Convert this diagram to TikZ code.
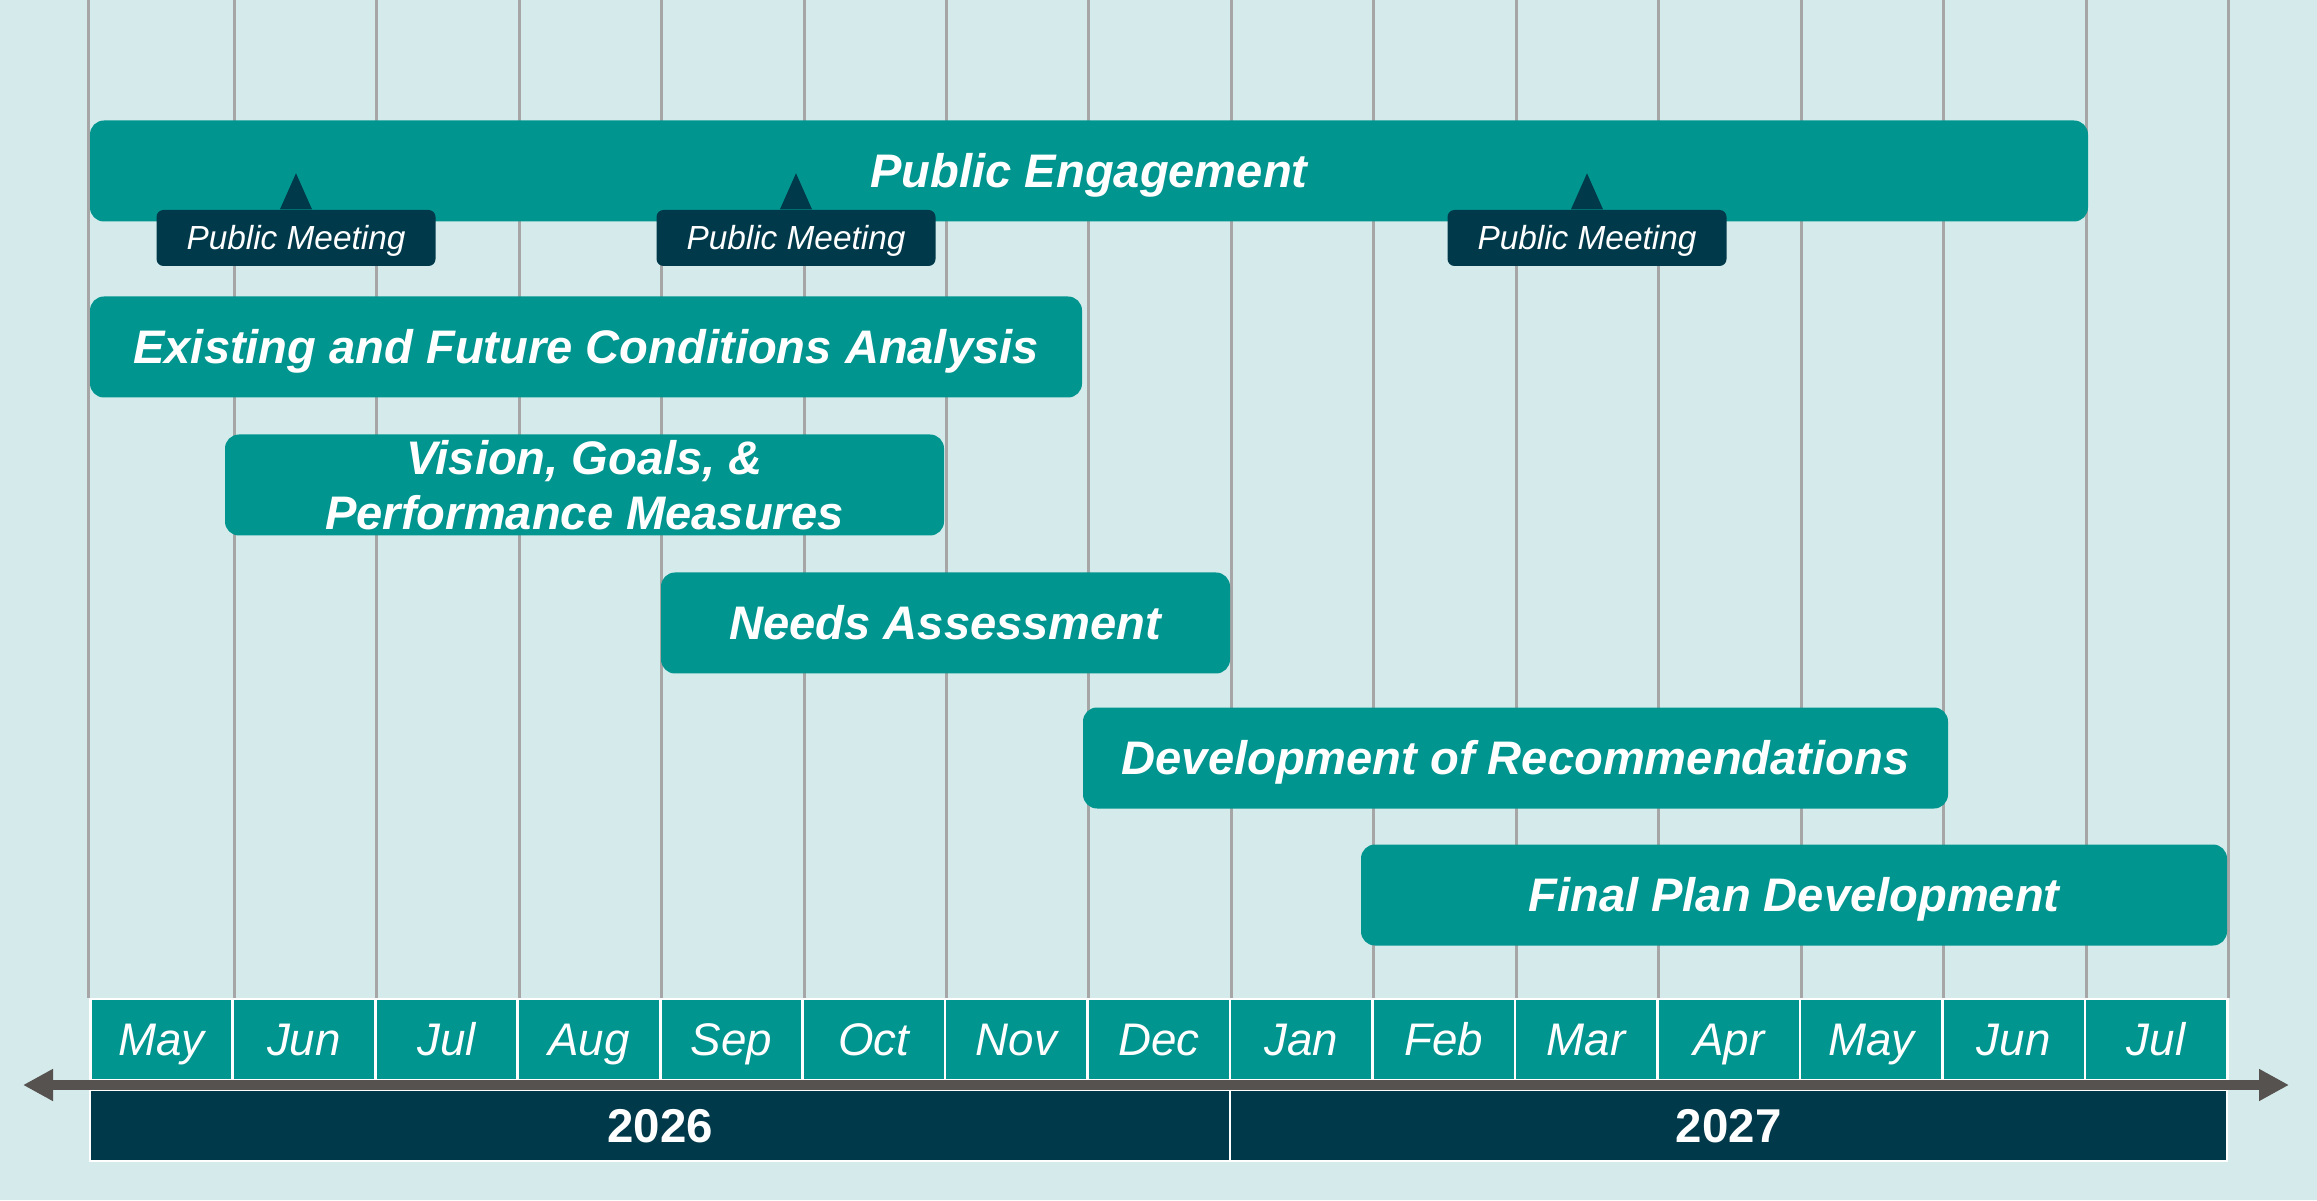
\documentclass[tikz,border=0pt]{standalone}
\usepackage{fontspec}
\setmainfont{Liberation Sans}
\usetikzlibrary{arrows.meta}
\definecolor{bgblue}{HTML}{D5EAEB}
\definecolor{barteal}{HTML}{00958F}
\definecolor{darknavy}{HTML}{003A4A}
\definecolor{gridgrey}{HTML}{A6A6A6}
\definecolor{axisgrey}{HTML}{55524F}
\tikzset{
	taskbar/.style={fill=barteal, rounded corners=0.14cm, minimum height=1.01cm, inner sep=0pt, text=white, align=center, font=\fontsize{13.4}{15.6}\selectfont\bfseries\itshape},
	capline/.style={text height=#1, text depth=0pt},
	meeting/.style={fill=darknavy, rounded corners=0.07cm, minimum width=2.79cm, minimum height=0.56cm, inner sep=0pt, text=white, capline=6.8pt, font=\fontsize{9.5}{11}\selectfont\itshape},
	month/.style={fill=barteal, draw=white, line width=0.8pt, minimum width=1.4248cm, minimum height=0.81cm, inner sep=0pt, text=white, capline=9.3pt, font=\fontsize{13}{15}\selectfont\itshape},
	year/.style={fill=darknavy, draw=white, line width=0.6pt, minimum height=0.71cm, inner sep=0pt, text=white, capline=9.7pt, font=\fontsize{13.5}{16}\selectfont\bfseries},
	gridline/.style={draw=gridgrey, line width=0.85pt},
	timeline/.style={draw=axisgrey, line width=0.1cm, {Triangle[length=0.3cm,width=0.3cm]}-{Triangle[length=0.3cm,width=0.3cm]}}
}
\begin{document}
\begin{tikzpicture}
	% Background:
	\useasboundingbox (0, 0) rectangle (23.17, 12);
	\fill[bgblue] (0, 0) rectangle (23.17, 12);
	% Months and years:
	\node[month](M1) at (1.6144, 1.605){May};
	\node[month](M2) at (3.0392, 1.605){Jun};
	\node[month](M3) at (4.4640, 1.605){Jul};
	\node[month](M4) at (5.8888, 1.605){Aug};
	\node[month](M5) at (7.3136, 1.605){Sep};
	\node[month](M6) at (8.7384, 1.605){Oct};
	\node[month](M7) at (10.1632, 1.605){Nov};
	\node[month](M8) at (11.5880, 1.605){Dec};
	\node[month](M9) at (13.0128, 1.605){Jan};
	\node[month](M10) at (14.4376, 1.605){Feb};
	\node[month](M11) at (15.8624, 1.605){Mar};
	\node[month](M12) at (17.2872, 1.605){Apr};
	\node[month](M13) at (18.7120, 1.605){May};
	\node[month](M14) at (20.1368, 1.605){Jun};
	\node[month](M15) at (21.5616, 1.605){Jul};
	\node[year, minimum width=11.398cm](Y1) at (6.601, 0.745){2026};
	\node[year, minimum width=9.974cm](Y2) at (17.287, 0.745){2027};
	% Grid lines:
	\draw[gridline] (M1.north west) -- ++(0, 9.99);
	\draw[gridline] (M1.north east) -- ++(0, 9.99);
	\draw[gridline] (M2.north east) -- ++(0, 9.99);
	\draw[gridline] (M3.north east) -- ++(0, 9.99);
	\draw[gridline] (M4.north east) -- ++(0, 9.99);
	\draw[gridline] (M5.north east) -- ++(0, 9.99);
	\draw[gridline] (M6.north east) -- ++(0, 9.99);
	\draw[gridline] (M7.north east) -- ++(0, 9.99);
	\draw[gridline] (M8.north east) -- ++(0, 9.99);
	\draw[gridline] (M9.north east) -- ++(0, 9.99);
	\draw[gridline] (M10.north east) -- ++(0, 9.99);
	\draw[gridline] (M11.north east) -- ++(0, 9.99);
	\draw[gridline] (M12.north east) -- ++(0, 9.99);
	\draw[gridline] (M13.north east) -- ++(0, 9.99);
	\draw[gridline] (M14.north east) -- ++(0, 9.99);
	\draw[gridline] (M15.north east) -- ++(0, 9.99);
	% Time axis:
	\coordinate (TL) at (0.23, 1.15);
	\coordinate (TR) at (22.89, 1.15);
	\draw[timeline] (TL) -- (TR);
	% Tasks:
	\node[taskbar, capline=9.6pt, minimum width=19.98cm](PE) at (10.89, 10.29){Public Engagement};
	\node[taskbar, capline=9.6pt, minimum width=9.92cm](EC) at (5.86, 8.53){Existing and Future Conditions Analysis};
	\node[taskbar, minimum width=7.19cm](VG) at (5.845, 7.15){Vision, Goals, \&\\Performance Measures};
	\node[taskbar, capline=9.6pt, minimum width=5.69cm](NA) at (9.455, 5.77){Needs Assessment};
	\node[taskbar, capline=9.6pt, minimum width=8.65cm](DR) at (15.155, 4.42){Development of Recommendations};
	\node[taskbar, capline=9.6pt, minimum width=8.66cm](FP) at (17.94, 3.05){Final Plan Development};
	% Meetings:
	\node[meeting](PM1) at (2.96, 9.62){Public Meeting};
	\node[meeting](PM2) at (7.96, 9.62){Public Meeting};
	\node[meeting](PM3) at (15.87, 9.62){Public Meeting};
	\fill[darknavy] ([xshift=-0.16cm]PM1.north) -- ++(0.16, 0.36) -- ++(0.16, -0.36) -- cycle;
	\fill[darknavy] ([xshift=-0.16cm]PM2.north) -- ++(0.16, 0.36) -- ++(0.16, -0.36) -- cycle;
	\fill[darknavy] ([xshift=-0.16cm]PM3.north) -- ++(0.16, 0.36) -- ++(0.16, -0.36) -- cycle;
\end{tikzpicture}
\end{document}
